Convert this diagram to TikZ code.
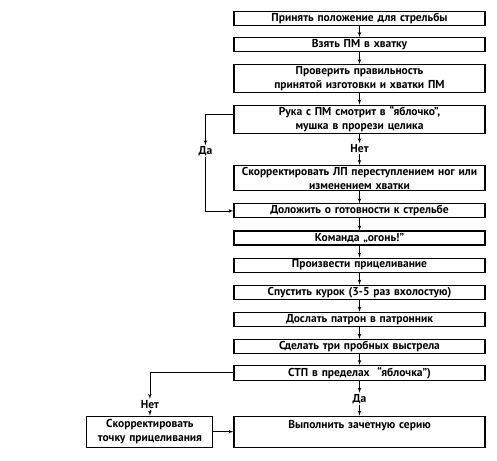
\documentclass[tikz,border=0pt]{standalone}
\usepackage{fontspec}
\setmainfont{PT Sans}
\usetikzlibrary{arrows,positioning}

\begin{document}
\begin{tikzpicture}[->,>=latex',x=1pt,y=1pt,node distance=12pt,
                    font=\fontsize{11.5}{14}\selectfont\bfseries]
\tikzstyle{shag}=[rectangle,line width=1.1pt,draw=black,text width=248pt,align=center,minimum height=14pt,inner sep=1.5pt]
\tikzstyle{shag_mal}=[shag,text width=123pt,minimum height=30pt]
\tikzstyle{vetka}=[line width=0.7pt]
\tikzstyle{otvet}=[inner sep=1pt]

\useasboundingbox (0,0) rectangle (497,-460);

\node[shag] (polozhenie) at (359.5,-18.5) {Принять положение для стрельбы};
\node[shag] (vzyat_pm) [below=11pt of polozhenie] {Взять ПМ в хватку};
\node[shag] (proverit) [below=of vzyat_pm] {Проверить правильность\\ принятой изготовки и хватки ПМ};
\node[shag] (ruka_pm) [below=12pt of proverit] {Рука с ПМ смотрит в “яблочко”,\\ мушка в прорези целика};
\node[otvet] (net1) [below=9pt of ruka_pm] {Нет};
\node[otvet] (da1) [below left=11pt and 20pt of ruka_pm.south west] {Да};
\node[shag] (korrekt_lp) [below=11pt of net1] {Скорректировать ЛП переступлением ног или\\ изменением хватки};
\node[shag] (dolozhit) [below=of korrekt_lp] {Доложить о готовности к стрельбе};
\node[shag] (komanda) [below=of dolozhit] {Команда „огонь!”};
\node[shag] (pricelivanie) [below=of komanda] {Произвести прицеливание};
\node[shag] (spusk) [below=of pricelivanie] {Спустить курок (3-5 раз вхолостую)};
\node[shag] (doslat) [below=of spusk] {Дослать патрон в патронник};
\node[shag] (tri_vystrela) [below=of doslat] {Сделать три пробных выстрела};
\node[shag] (stp) [below=11pt of tri_vystrela] {СТП в пределах \ “яблочка”)};
\node[otvet] (da2) [below=12pt of stp] {Да};
\node[shag] (zachet) [below=11pt of da2, minimum height=31pt] {Выполнить зачетную серию\\ \mbox{}};
\node[shag_mal] (korrekt_tochka) [left=20pt of zachet, minimum height=31pt] {Скорректировать\\ точку прицеливания};
\node[otvet] (net2) [above=6pt of korrekt_tochka] {Нет};

\draw[vetka] (polozhenie) -- (vzyat_pm);
\draw[vetka] (vzyat_pm) -- (proverit);
\draw[vetka] (proverit) -- (ruka_pm);
\draw[vetka] (ruka_pm) -- (net1);
\draw[vetka] (net1) -- (korrekt_lp);
\draw[vetka] ([yshift=5pt]ruka_pm.west) -| (da1);
\draw[vetka] (da1.south) |- (dolozhit.west);
\draw[vetka] (korrekt_lp) -- (dolozhit);
\draw[vetka] (dolozhit) -- (komanda);
\draw[vetka] (komanda) -- (pricelivanie);
\draw[vetka] (pricelivanie) -- (spusk);
\draw[vetka] (spusk) -- (doslat);
\draw[vetka] (doslat) -- (tri_vystrela);
\draw[vetka] (tri_vystrela) -- (stp);
\draw[vetka] (stp) -- (da2);
\draw[vetka] (da2) -- (zachet);
\draw[vetka] (stp.west) -| (net2);
\draw[vetka] (net2) -- (korrekt_tochka);
\draw[vetka] (korrekt_tochka) -- (zachet);
\end{tikzpicture}
\end{document}
